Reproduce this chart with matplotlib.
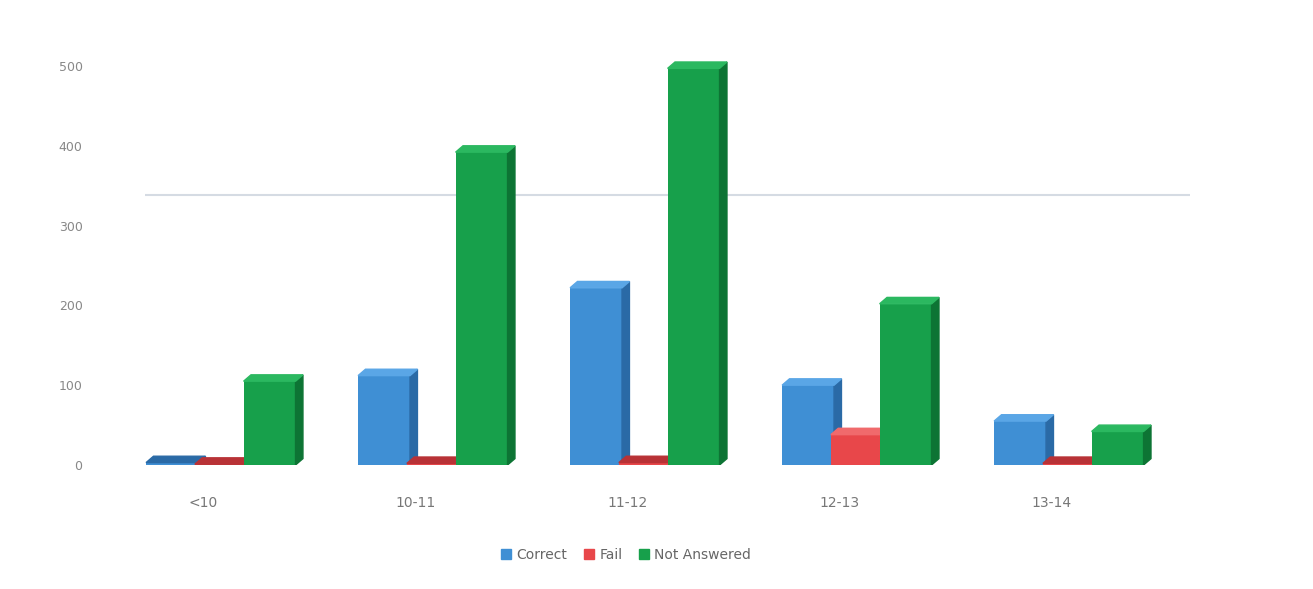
import matplotlib
matplotlib.use("Agg")
import matplotlib.pyplot as plt
from matplotlib.patches import Polygon
import numpy as np

categories = ["<10", "10-11", "11-12", "12-13", "13-14"]
series_names = ["Correct", "Fail", "Not Answered"]
correct = [3, 112, 222, 100, 55]
fail = [1, 2, 3, 38, 2]
not_answered = [105, 392, 497, 202, 42]
y_ticks = [0, 100, 200, 300, 400, 500]
ref_line = 338

series = [correct, fail, not_answered]
face_colors = ["#3f8fd4", "#e8474a", "#17a04b"]
side_colors = ["#2a6aa6", "#b83236", "#0d7434"]
top_colors = ["#5aa6e6", "#f06a6c", "#2bb860"]

fig = plt.figure(figsize=(13.13, 5.89), dpi=100)
ax = fig.add_axes([145 / 1313, 1 - 465 / 589, 1045 / 1313, (465 - 58) / 589])

x = np.arange(len(categories))
step = 0.23
w = 0.245
offsets = [-step, 0, step]
depth_x = 0.035
depth_y = 8

ax.axhline(ref_line, color="#d5dbe3", lw=1.5, zorder=0)

for s, vals in enumerate(series):
    for i, v in enumerate(vals):
        x0 = x[i] + offsets[s] - (w + depth_x) / 2
        x1 = x0 + w
        ax.bar(x0, v, width=w, align="edge", color=face_colors[s],
               edgecolor="none", zorder=2 + s)
        side = Polygon([(x1, 0), (x1 + depth_x, depth_y), (x1 + depth_x, v + depth_y), (x1, v)],
                       closed=True, color=side_colors[s], zorder=2 + s)
        ax.add_patch(side)
        top = Polygon([(x0, v), (x1, v), (x1 + depth_x, v + depth_y), (x0 + depth_x, v + depth_y)],
                      closed=True, color=top_colors[s] if v > 5 else side_colors[s], zorder=2 + s)
        ax.add_patch(top)

ax.set_xlim(-0.375, 4.554)
ax.set_ylim(0, 510)
ax.set_xticks(x - 0.1)
ax.set_xticklabels(categories, color="#777777", fontsize=10)
ax.set_yticks(y_ticks)
ax.set_yticklabels([str(t) for t in y_ticks], color="#888888", fontsize=9)
ax.tick_params(axis="y", length=0, pad=45)
ax.tick_params(axis="x", length=0, pad=22)
for sp in ax.spines.values():
    sp.set_visible(False)

handles = [plt.Rectangle((0, 0), 1, 1, color=c) for c in face_colors]
fig.legend(handles, series_names, loc="center", bbox_to_anchor=(0.477, 1 - 555 / 589),
           ncol=3, frameon=False, fontsize=10, labelcolor="#666666",
           handlelength=0.7, handleheight=0.7, columnspacing=1.2, handletextpad=0.4)

fig.savefig("out.png", dpi=100, facecolor="white")
